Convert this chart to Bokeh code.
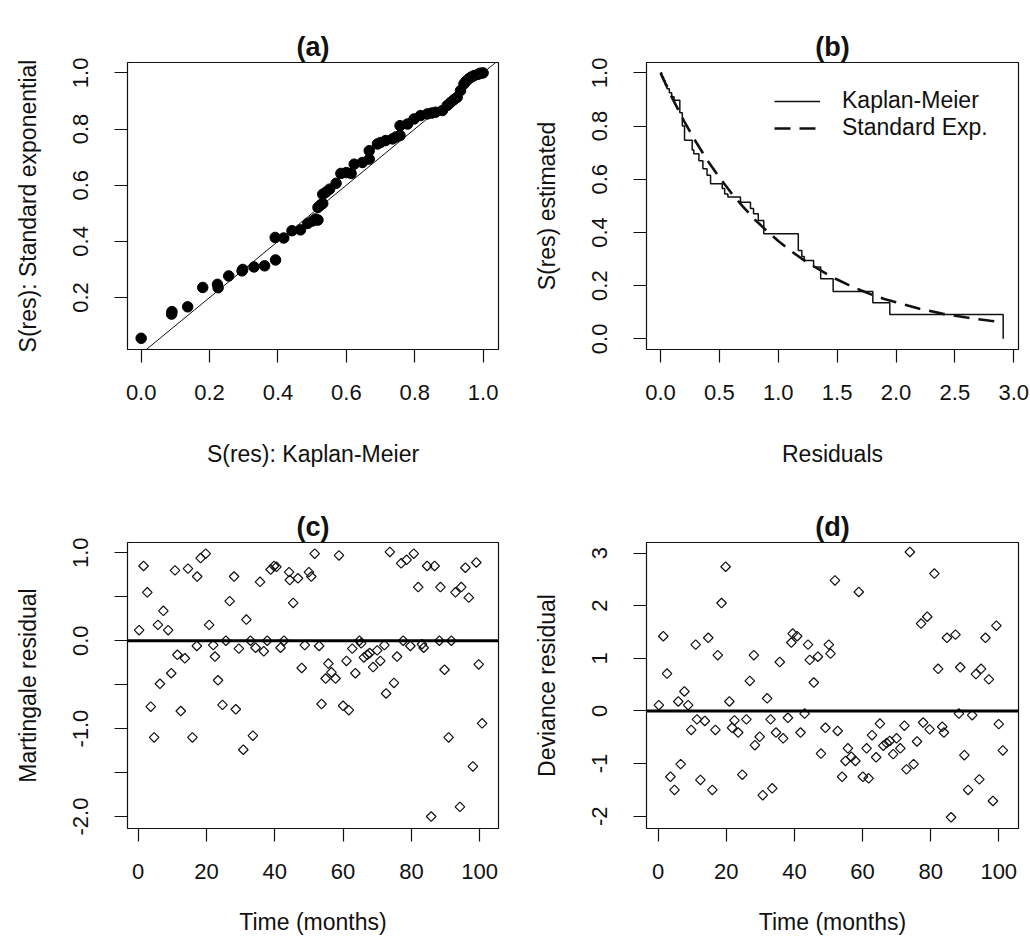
import math
from bokeh.plotting import figure
from bokeh.layouts import column, row
from bokeh.models import (Range1d, FixedTicker, Span, Slope, Legend, LegendItem,
                          PrintfTickFormatter, LinearAxis, Title)
from bokeh.embed import file_html
from bokeh.resources import INLINE

# ---------------- data ----------------
# (a) S(res): Kaplan-Meier vs S(res): standard exponential
a_km = [0.000, 0.089, 0.090, 0.136, 0.180, 0.223, 0.225, 0.256, 0.295, 0.297,
        0.330, 0.361, 0.393, 0.392, 0.417, 0.441, 0.466, 0.487, 0.502, 0.510,
        0.517, 0.517, 0.525, 0.531, 0.531, 0.540, 0.551, 0.570, 0.584, 0.600,
        0.614, 0.623, 0.647, 0.667, 0.667, 0.691, 0.700, 0.715, 0.735, 0.745,
        0.757, 0.757, 0.779, 0.798, 0.817, 0.837, 0.850, 0.861, 0.881, 0.895,
        0.905, 0.915, 0.924, 0.934, 0.944, 0.950, 0.958, 0.965, 0.973, 0.985, 0.992, 1.000]
a_exp = [0.055, 0.141, 0.150, 0.167, 0.236, 0.247, 0.235, 0.277, 0.295, 0.300,
         0.309, 0.313, 0.334, 0.414, 0.412, 0.438, 0.441, 0.464, 0.473, 0.480,
         0.476, 0.521, 0.530, 0.535, 0.568, 0.575, 0.586, 0.607, 0.642, 0.645,
         0.642, 0.675, 0.681, 0.693, 0.723, 0.747, 0.752, 0.759, 0.765, 0.772,
         0.777, 0.812, 0.818, 0.836, 0.848, 0.854, 0.857, 0.860, 0.866, 0.884,
         0.895, 0.905, 0.913, 0.937, 0.961, 0.970, 0.979, 0.985, 0.990, 0.995, 0.999, 1.000]
ref_intercept = 0.0
ref_slope = 1.0

# (b) Kaplan-Meier step curve of residuals and standard exponential curve
km_time = [0.000, 0.010, 0.025, 0.040, 0.055, 0.075, 0.095, 0.115, 0.164, 0.185,
           0.204, 0.269, 0.283, 0.326, 0.360, 0.395, 0.425, 0.524, 0.545, 0.572,
           0.679, 0.764, 0.790, 0.830, 0.877, 1.170, 1.200, 1.220, 1.300, 1.360,
           1.466, 1.803, 1.947, 2.910]
km_surv = [1.000, 0.985, 0.970, 0.955, 0.940, 0.925, 0.910, 0.897, 0.850, 0.800,
           0.747, 0.710, 0.696, 0.670, 0.640, 0.615, 0.583, 0.565, 0.545, 0.533,
           0.514, 0.490, 0.470, 0.445, 0.395, 0.332, 0.310, 0.295, 0.270, 0.226,
           0.178, 0.136, 0.092, 0.000]
exp_res = [0.00, 0.10, 0.20, 0.30, 0.40, 0.50, 0.60, 0.70, 0.80, 0.90, 1.00, 1.10, 1.20,
           1.30, 1.40, 1.50, 1.60, 1.70, 1.80, 1.90, 2.00, 2.20, 2.40, 2.60, 2.80, 2.88]
exp_surv = [1.000, 0.905, 0.819, 0.741, 0.670, 0.607, 0.549, 0.497, 0.449, 0.407, 0.368,
            0.333, 0.301, 0.273, 0.247, 0.223, 0.202, 0.183, 0.165, 0.150, 0.138, 0.113,
            0.094, 0.080, 0.068, 0.064]

# (c) Martingale residuals vs time
c_time = [1.6, 2.7, 0.3, 5.8, 8.8, 7.4, 6.4, 9.7, 3.7, 4.7, 10.8, 14.6, 17.3, 18.3, 19.8,
          11.5, 13.7, 12.5, 15.9, 17.2, 20.8, 22.0, 22.5, 23.4, 24.7, 28.6, 26.8, 28.1,
          25.7, 29.5, 31.7, 30.8, 33.6, 32.9, 34.4, 36.8, 37.8, 35.7, 38.8, 39.8, 40.5,
          41.7, 42.7, 44.2, 44.4, 46.8, 45.4, 47.9, 48.8, 50.0, 50.7, 51.7, 53.0, 53.7,
          54.9, 55.7, 56.6, 57.8, 58.8, 60.0, 61.7, 61.0, 62.7, 63.6, 64.8, 65.3, 66.1,
          67.1, 67.8, 68.8, 70.0, 70.9, 72.1, 72.6, 73.7, 74.9, 75.8, 77.0, 78.6, 80.7,
          77.6, 79.7, 82.0, 83.1, 83.6, 84.6, 86.8, 85.8, 88.2, 88.5, 89.7, 90.9, 91.7,
          92.9, 94.6, 94.2, 95.8, 96.8, 99.0, 98.0, 99.7, 100.7]
c_mart = [0.85, 0.55, 0.12, 0.18, 0.12, 0.34, -0.49, -0.37, -0.75, -1.10, 0.80, 0.82, 0.73,
          0.94, 0.99, -0.16, -0.20, -0.80, -1.10, -0.06, 0.18, -0.05, -0.18, -0.45, -0.73,
          -0.78, 0.45, 0.73, 0.0, -0.09, 0.24, -1.24, -1.08, 0.0, -0.08, -0.12, 0.0, 0.67,
          0.81, 0.85, 0.84, -0.08, 0.0, 0.78, 0.69, 0.71, 0.43, -0.31, -0.05, 0.78, 0.73,
          0.99, -0.06, -0.72, -0.43, -0.26, -0.36, -0.43, 0.97, -0.74, -0.79, -0.23, -0.09,
          -0.37, 0.0, -0.03, -0.19, -0.16, -0.14, -0.30, -0.11, -0.23, -0.05, -0.60, 1.01,
          -0.48, -0.18, 0.88, 0.92, 0.99, 0.0, -0.06, 0.61, -0.04, -0.08, 0.85, 0.85, -2.00,
          0.0, 0.61, -0.33, -1.10, 0.0, 0.55, 0.61, -1.89, 0.83, 0.49, 0.89, -1.43, -0.27, -0.94]

# (d) Deviance residuals vs time
d_time = [1.5, 2.6, 0.2, 5.9, 8.8, 7.7, 9.7, 6.6, 3.6, 4.8,
          11.4, 13.7, 11.0, 14.7, 12.4, 16.8, 15.9, 17.5, 18.6, 19.8,
          20.9, 21.7, 22.4, 23.5, 24.7, 25.9, 26.9, 28.1, 28.4, 29.8,
          30.7, 33.5, 32.0, 33.0, 34.6, 36.7, 35.7, 38.1, 39.1, 39.5,
          40.8, 41.8, 43.0, 44.0, 44.5, 46.9, 45.7, 47.8, 49.1, 50.1,
          50.6, 51.9, 52.7, 54.0, 55.0, 55.7, 56.7, 57.9, 58.9, 60.1,
          61.8, 61.2, 62.8, 64.0, 65.1, 66.1, 67.1, 68.0, 69.0, 70.0,
          71.1, 72.3, 72.9, 73.9, 75.0, 76.0, 77.2, 79.0, 77.8, 79.7,
          81.1, 82.2, 83.4, 83.9, 84.8, 87.3, 86.0, 88.3, 88.7, 89.9,
          91.0, 92.2, 93.3, 94.8, 94.3, 96.1, 97.1, 99.3, 98.3, 100.0, 101.2]
d_dev = [1.42, 0.71, 0.11, 0.18, 0.11, 0.37, -0.36, -1.01, -1.25, -1.50,
         -0.16, -0.19, 1.26, 1.39, -1.31, -0.36, -1.50, 1.06, 2.05, 2.74,
         0.18, -0.32, -0.18, -0.41, -1.21, -0.16, 0.57, 1.06, -0.65, -0.49,
         -1.60, -1.47, 0.24, -0.16, -0.41, -0.52, 0.93, -0.13, 1.30, 1.47,
         1.42, -0.41, -0.05, 1.26, 0.97, 1.03, 0.54, -0.81, -0.32, 1.26,
         1.09, 2.48, -0.38, -1.25, -0.95, -0.71, -0.87, -0.95, 2.26, -1.25,
         -1.28, -0.71, -0.46, -0.88, -0.24, -0.66, -0.61, -0.57, -0.82, -0.52,
         -0.71, -0.28, -1.11, 3.02, -1.01, -0.58, 1.66, 1.79, -0.22, -0.35,
         2.61, 0.80, -0.30, -0.41, 1.39, 1.45, -2.02, -0.05, 0.83, -0.84,
         -1.50, -0.08, 0.70, 0.80, -1.30, 1.39, 0.60, 1.62, -1.71, -0.25, -0.75]
zero_level = 0.0

a_xticks = [0.0, 0.2, 0.4, 0.6, 0.8, 1.0]
a_yticks = [0.2, 0.4, 0.6, 0.8, 1.0]
b_xticks = [0.0, 0.5, 1.0, 1.5, 2.0, 2.5, 3.0]
b_yticks = [0.0, 0.2, 0.4, 0.6, 0.8, 1.0]
time_ticks = [0, 20, 40, 60, 80, 100]
c_yticks = [-2.0, -1.5, -1.0, -0.5, 0.0, 0.5, 1.0]
d_yticks = [-2, -1, 0, 1, 2, 3]

# ---------------- style ----------------
FONT = "Liberation Sans"
TICK_FS = "22px"
LAB_FS = "23px"
TITLE_FS = "27px"
INK = "#111111"


def make_fig(title, xr, yr, xticks, yticks, xfmt, yfmt, xlabel, ylabel,
             left, right, top, bottom, fw, fh, title_gap, x_als):
    p = figure(x_range=Range1d(*xr), y_range=Range1d(*yr),
               frame_width=fw, frame_height=fh,
               min_border_left=left, min_border_right=right,
               min_border_top=top, min_border_bottom=bottom,
               output_backend="svg", toolbar_location=None,
               background_fill_color="white", border_fill_color="white")
    p.outline_line_color = INK
    p.outline_line_width = 1.2
    p.grid.visible = False
    for ax in (p.xaxis[0], p.yaxis[0]):
        ax.axis_line_color = None
        ax.major_tick_in = 0
        ax.major_tick_out = 13
        ax.major_tick_line_color = INK
        ax.major_tick_line_width = 1.2
        ax.minor_tick_line_color = None
        ax.major_label_text_font = FONT
        ax.major_label_text_font_size = TICK_FS
        ax.major_label_text_color = INK
        ax.axis_label_text_font = FONT
        ax.axis_label_text_font_size = LAB_FS
        ax.axis_label_text_font_style = "normal"
        ax.axis_label_text_color = INK
    p.xaxis[0].ticker = FixedTicker(ticks=xticks)
    p.yaxis[0].ticker = FixedTicker(ticks=yticks)
    p.xaxis[0].formatter = PrintfTickFormatter(format=xfmt)
    p.yaxis[0].formatter = PrintfTickFormatter(format=yfmt)
    p.xaxis[0].axis_label = xlabel
    p.yaxis[0].axis_label = ylabel
    p.xaxis[0].major_label_standoff = 22
    p.xaxis[0].axis_label_standoff = x_als
    p.yaxis[0].major_label_orientation = "vertical"
    p.yaxis[0].major_label_standoff = 26
    p.yaxis[0].axis_label_standoff = 30
    # bold panel title, lifted above the frame by a blank spacer axis
    p.add_layout(Title(text=title, align="center", text_font=FONT, text_font_size=TITLE_FS,
                       text_font_style="bold", text_color=INK, standoff=2), "above")
    spacer = LinearAxis(ticker=FixedTicker(ticks=[xticks[0]]), axis_line_color=None,
                        major_tick_line_color="white", major_tick_line_width=0.1,
                        minor_tick_line_color=None,
                        major_tick_in=0, major_tick_out=title_gap, minor_tick_out=0,
                        major_label_standoff=0, major_label_text_font_size="1px",
                        major_label_text_color="white",
                        formatter=PrintfTickFormatter(format=""))
    p.add_layout(spacer, "above")
    return p


# (a)
pa = make_fig("(a)", (-0.04, 1.045), (0.015, 1.037), a_xticks, a_yticks, "%.1f", "%.1f",
              "S(res): Kaplan-Meier", "S(res): Standard exponential",
              127, 17, 62, 120, 371, 287, 19, 38)
pa.add_layout(Slope(gradient=ref_slope, y_intercept=ref_intercept, line_color=INK, line_width=1))
pa.scatter(a_km, a_exp, marker="circle", size=10.5, fill_color="black", line_color="black")

# (b)
pb = make_fig("(b)", (-0.119, 3.04), (-0.04, 1.039), b_xticks, b_yticks, "%.1f", "%.1f",
              "Residuals", "S(res) estimated",
              131, 12, 62, 120, 372, 287, 19, 38)
km_r = pb.step(km_time, km_surv, mode="after", line_color=INK, line_width=1.5)
ex_r = pb.line(exp_res, exp_surv, line_color=INK, line_width=2.6, line_dash="16 9")
leg = Legend(items=[LegendItem(label="Kaplan-Meier", renderers=[km_r]),
                    LegendItem(label="Standard Exp.", renderers=[ex_r])],
             location=(128, 208), padding=0, margin=0, spacing=0,
             glyph_width=46, glyph_height=20, label_height=20, label_standoff=22,
             label_text_font=FONT, label_text_font_size=LAB_FS, label_text_color=INK,
             border_line_alpha=0, background_fill_alpha=0)
pb.add_layout(leg)

# (c)
pc = make_fig("(c)", (-3.1, 105.5), (-2.136, 1.117), time_ticks, c_yticks, "%d", "%.1f",
              "Time (months)", "Martingale residual",
              127, 17, 73, 110, 371, 286, 21, 27)
pc.yaxis[0].major_label_overrides = {-1.5: "", -0.5: "", 0.5: ""}
pc.add_layout(Span(location=zero_level, dimension="width", line_color="black", line_width=3))
pc.scatter(c_time, c_mart, marker="square", angle=math.pi / 4, size=6.8,
           fill_color=None, line_color=INK, line_width=1.2)

# (d)
pd_ = make_fig("(d)", (-3.43, 105.8), (-2.233, 3.2), time_ticks, d_yticks, "%d", "%d",
               "Time (months)", "Deviance residual",
               131, 12, 73, 110, 372, 286, 21, 27)
pd_.add_layout(Span(location=zero_level, dimension="width", line_color="black", line_width=3))
pd_.scatter(d_time, d_dev, marker="square", angle=math.pi / 4, size=6.8,
            fill_color=None, line_color=INK, line_width=1.2)

layout = column(row(pa, pb), row(pc, pd_))
open("out.html", "w").write(file_html(layout, INLINE))
